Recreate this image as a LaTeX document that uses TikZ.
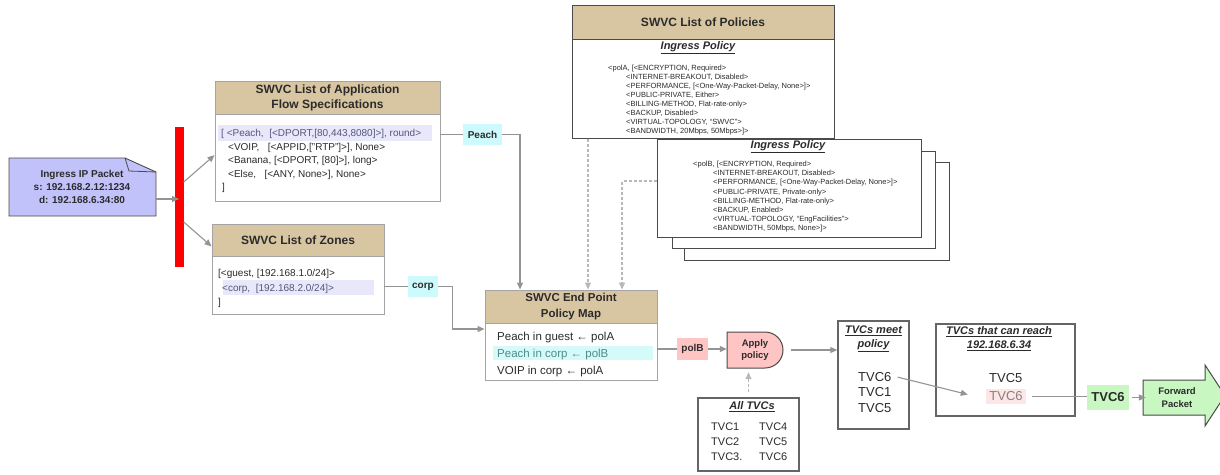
\documentclass[tikz,border=0pt]{standalone}
\usepackage{fontspec}
\setmainfont{Liberation Sans}
\usetikzlibrary{arrows.meta}
\definecolor{tanfill}{HTML}{D8C6A2}
\definecolor{boxline}{HTML}{A4A4A4}
\definecolor{darkline}{HTML}{4A4A4A}
\definecolor{connc}{HTML}{949494}
\definecolor{dashc}{HTML}{B8B8B8}
\definecolor{lav}{HTML}{C2C2FA}
\definecolor{lavlight}{HTML}{E8E8FA}
\definecolor{cyanlab}{HTML}{CCFAFD}
\definecolor{cyanband}{HTML}{D4FAFA}
\definecolor{pinklab}{HTML}{FFC4C4}
\definecolor{pinkband}{HTML}{FCE6E6}
\definecolor{greenlab}{HTML}{C9F7C2}
\definecolor{ink}{HTML}{2B2B2B}
\definecolor{inkblue}{HTML}{56567A}
\definecolor{inkteal}{HTML}{4F8C8C}
\definecolor{inkgray}{HTML}{8A8080}
\newcommand\pxfont[2]{\fontsize{#1}{#2}\selectfont}
\begin{document}
\begin{tikzpicture}[x=1pt,y=-1pt,
  titlebox/.style={draw=boxline, fill=tanfill, line width=0.9pt, inner sep=0,
    font=\bfseries\pxfont{12}{15}, text=ink, align=center},
  bodybox/.style={draw=boxline, fill=white, line width=0.9pt, inner sep=0},
  pbox/.style={draw=darkline, fill=white, line width=1pt, inner sep=0},
  tbox/.style={draw=darkline!85, fill=white, line width=1.5pt, inner sep=0},
  lbl/.style={inner sep=0, font=\bfseries\pxfont{10}{12}, text=ink},
  txt/.style={inner sep=0, anchor=base west, text=ink},
  ctxt/.style={inner sep=0, anchor=base, text=ink},
  ptxt/.style={txt, font=\pxfont{7.5}{9}},
  ftxt/.style={txt, font=\pxfont{10}{12}},
  etxt/.style={txt, font=\pxfont{11.5}{14}},
  ttxt/.style={txt, font=\pxfont{13}{15}},
  stxt/.style={txt, font=\pxfont{11}{13}},
  htitle/.style={inner sep=0, text=ink, align=center, font=\bfseries\itshape\pxfont{11}{14}},
  band/.style={inner sep=0, draw=none},
  link/.style={draw=connc, line width=1.1pt},
  arr/.style={link, -{Triangle[length=7pt,width=6pt]}},
  darr/.style={draw=dashc, line width=1.1pt, dash pattern=on 3pt off 2pt,
    -{Triangle[length=7pt,width=6pt]}}]
\useasboundingbox (0,0) rectangle (1220,474);
\fill[white] (0,0) rectangle (1220,474);

% ---------- ingress packet (note with folded corner) ----------
\filldraw[fill=lav, draw=darkline, line width=0.9pt]
  (9,158) -- (125,158) -- (156,172) -- (156,216) -- (9,216) -- cycle;
\draw[darkline, line width=0.8pt] (125,158) -- (129,171) -- (156,172);
\node[inner sep=0, minimum width=147, minimum height=58, align=center,
  font=\bfseries\pxfont{10}{13.3}, text=ink] (pkt) at (82,187)
  {Ingress IP Packet\\s: 192.168.2.12:1234\\d: 192.168.6.34:80};

% classifier bar
\node[fill=red, inner sep=0, minimum width=9, minimum height=140] (bar) at (179,197) {};

% ---------- application flow specifications ----------
\node[titlebox, minimum width=225, minimum height=33.3] (appT) at (327.5,97.65)
  {SWVC List of Application\\Flow Specifications};
\node[bodybox, minimum width=225, minimum height=86.7] (appB) at (327.5,157.65) {};
\node[band, fill=lavlight, minimum width=214, minimum height=16] (appBand) at (325,133) {};
\node[ftxt, text=inkblue] (a1) at (221,136.6) {[ <Peach,\ \ [<DPORT,[80,443,8080]>], round>};
\node[ftxt] (a2) at (228,150.1) {<VOIP,\ \ \ [<APPID,["RTP"]>], None>};
\node[ftxt] (a3) at (228,163.6) {<Banana, [<DPORT, [80]>], long>};
\node[ftxt] (a4) at (228,177.1) {<Else,\ \ \ [<ANY, None>], None>};
\node[ftxt] (a5) at (222,190.6) {]};

% ---------- zones ----------
\node[titlebox, minimum width=172, minimum height=32.7] (zT) at (298,240.35) {SWVC List of Zones};
\node[bodybox, minimum width=172, minimum height=57.3] (zB) at (298,285.35) {};
\node[band, fill=lavlight, minimum width=151, minimum height=15] (zBand) at (298.5,287.5) {};
\node[ftxt] (z1) at (218,276.6) {[<guest, [192.168.1.0/24]>};
\node[ftxt, text=inkblue] (z2) at (222,291.1) {<corp,\ \ [192.168.2.0/24]>};
\node[ftxt] (z3) at (218,305.6) {]};

% ---------- policies ----------
\node[titlebox, draw=darkline, line width=1pt, minimum width=262, minimum height=34] (polT) at (703,22) {SWVC List of Policies};
\node[pbox, minimum width=262, minimum height=99] (polB) at (703,88.5) {};
\node[htitle] (polHead) at (698,48) {\underline{Ingress Policy}};
\node[ptxt] (pa1) at (608,70.7) {<polA, [<ENCRYPTION, Required>};
\foreach \s [count=\i from 2] in {{<INTERNET-BREAKOUT, Disabled>},
    {<PERFORMANCE, [<One-Way-Packet-Delay, None>]>},
    {<PUBLIC-PRIVATE, Either>},
    {<BILLING-METHOD, Flat-rate-only>},
    {<BACKUP, Disabled>},
    {<VIRTUAL-TOPOLOGY, “SWVC”>},
    {<BANDWIDTH, 20Mbps, 50Mbps>]>}}
  \node[ptxt] (pa\i) at (626,{70.7+8.9*(\i-1)}) {\s};

% stacked policy cards
\node[pbox, minimum width=265, minimum height=98] (pb3) at (816.5,211) {};
\node[pbox, minimum width=263, minimum height=97] (pb2) at (803.5,199.5) {};
\node[pbox, minimum width=264, minimum height=98] (pb1) at (789,188) {};
\node[htitle] (pbHead) at (788,147) {\underline{Ingress Policy}};
\node[ptxt] (pc1) at (693,166.7) {<polB, [<ENCRYPTION, Required>};
\foreach \s [count=\i from 2] in {{<INTERNET-BREAKOUT, Disabled>},
    {<PERFORMANCE, [<One-Way-Packet-Delay, None>]>},
    {<PUBLIC-PRIVATE, Private-only>},
    {<BILLING-METHOD, Flat-rate-only>},
    {<BACKUP, Enabled>},
    {<VIRTUAL-TOPOLOGY, “EngFacilities”>},
    {<BANDWIDTH, 50Mbps, None>]>}}
  \node[ptxt] (pc\i) at (713,{166.7+9.1*(\i-1)}) {\s};

% ---------- end point policy map ----------
\node[titlebox, font=\bfseries\pxfont{11.5}{15.5}, minimum width=172, minimum height=33] (epT) at (571,306.5)
  {SWVC End Point\\Policy Map};
\node[bodybox, minimum width=172, minimum height=57] (epB) at (571,351.5) {};
\node[band, fill=cyanband, minimum width=160, minimum height=14] (epBand) at (573,353) {};
\node[etxt] (e1) at (497,340.1) {Peach in guest ← polA};
\node[etxt, text=inkteal] (e2) at (497,357.1) {Peach in corp ← polB};
\node[etxt] (e3) at (497,374.1) {VOIP in corp ← polA};

% ---------- labels on the links ----------
\node[lbl, fill=cyanlab, minimum width=39, minimum height=21] (peach) at (482.5,134.5) {Peach};
\node[lbl, fill=cyanlab, minimum width=30, minimum height=21] (corp) at (423,286.5) {corp};
\node[lbl, fill=pinklab, minimum width=31, minimum height=22] (polb) at (692.5,349) {polB};

% ---------- apply policy ----------
\filldraw[fill=pinklab, draw=darkline, line width=1pt]
  (727,332) -- (765,332) arc[start angle=90, end angle=-90, radius=18pt] -- (727,368) -- cycle;
\node[inner sep=0, minimum width=56, minimum height=36, align=center,
  font=\bfseries\pxfont{9.5}{12}, text=ink] (apply) at (755,350) {Apply\\policy};

% ---------- TVC boxes ----------
\node[tbox, minimum width=101, minimum height=73] (all) at (748.5,434.5) {};
\node[htitle] (allHead) at (752,407) {\underline{All TVCs}};
\node[stxt] (t1) at (711,430.9) {TVC1};
\node[stxt] (t2) at (711,445.9) {TVC2};
\node[stxt] (t3) at (711,460.9) {TVC3.};
\node[stxt] (t4) at (759,430.9) {TVC4};
\node[stxt] (t5) at (759,445.9) {TVC5};
\node[stxt] (t6) at (759,460.9) {TVC6};

\node[tbox, minimum width=71, minimum height=108] (meet) at (873.5,375) {};
\node[htitle] (meetHead) at (873.5,339) {\underline{TVCs meet}\\\underline{policy}};
\node[ttxt] (m6) at (858,381.6) {TVC6};
\node[ttxt] (m1) at (858,396.6) {TVC1};
\node[ttxt] (m5) at (858,412.6) {TVC5};

\node[tbox, minimum width=139, minimum height=92] (reach) at (1005.5,370) {};
\node[htitle] (reachHead) at (999,339) {\underline{TVCs that can reach}\\\underline{192.168.6.34}};
\node[ttxt] (r5) at (989,382.6) {TVC5};
\node[band, fill=pinkband, minimum width=40, minimum height=15, text=inkgray,
  font=\pxfont{13}{15}] (r6) at (1006,396.5) {TVC6};

\node[inner sep=0, fill=greenlab, minimum width=42, minimum height=25,
  font=\bfseries\pxfont{13}{15}, text=ink] (tvc) at (1108,397.5) {TVC6};

% forward packet arrow
\filldraw[fill=greenlab, draw=darkline, line width=1pt]
  (1143,380) -- (1205,380) -- (1205,365) -- (1225,395.5) -- (1205,426) -- (1205,415) -- (1143,415) -- cycle;
\node[inner sep=0, minimum width=62, minimum height=35, align=center,
  font=\bfseries\pxfont{9.5}{13}, text=ink] (fwd) at (1177,397.5) {Forward\\Packet};

% ---------- connectors ----------
\draw[arr] ([yshift=-12pt]pkt.east) -- ([yshift=-12pt]pkt.east -| bar.center);
\draw[arr] ([yshift=15pt]bar.east) -- ([yshift=2.5pt]appB.west);
\draw[arr] ([yshift=-25pt]bar.east) -- ([yshift=-6pt]zT.west);

\draw[link] (peach.west -| appB.east) -- (peach.west);
\draw[arr] (peach.east) -| ([xshift=-51pt]epT.north);
\draw[link] (corp.west -| zB.east) -- (corp.west);
\draw[arr] (corp.east) -- ++(14,0) |- ([yshift=22.5pt]epB.west);

\draw[darr] (polB.south -| 588,0) -- ([xshift=17pt]epT.north);
\draw[darr] ([yshift=7pt]pb1.west) -| ([xshift=51pt]epT.north);

\draw[link] (polb.west -| epB.east) -- (polb.west);
\draw[arr] (polb.east) -- (polb.east -| apply.west);
\draw[arr] ([xshift=8pt]apply.east) -- (apply.east -| meet.west);
\draw[darr] ([yshift=5pt]all.north) -- ([yshift=-4pt]all.north |- apply.south);

\draw[arr] ([xshift=6pt]m6.east) -- ([xshift=-18pt,yshift=2pt]r6.west);
\draw[link] ([xshift=6pt]r6.east) -- (r6.east -| tvc.west);
\draw[arr] ([xshift=3pt]tvc.east) -- (tvc.east -| fwd.west);
\end{tikzpicture}
\end{document}
